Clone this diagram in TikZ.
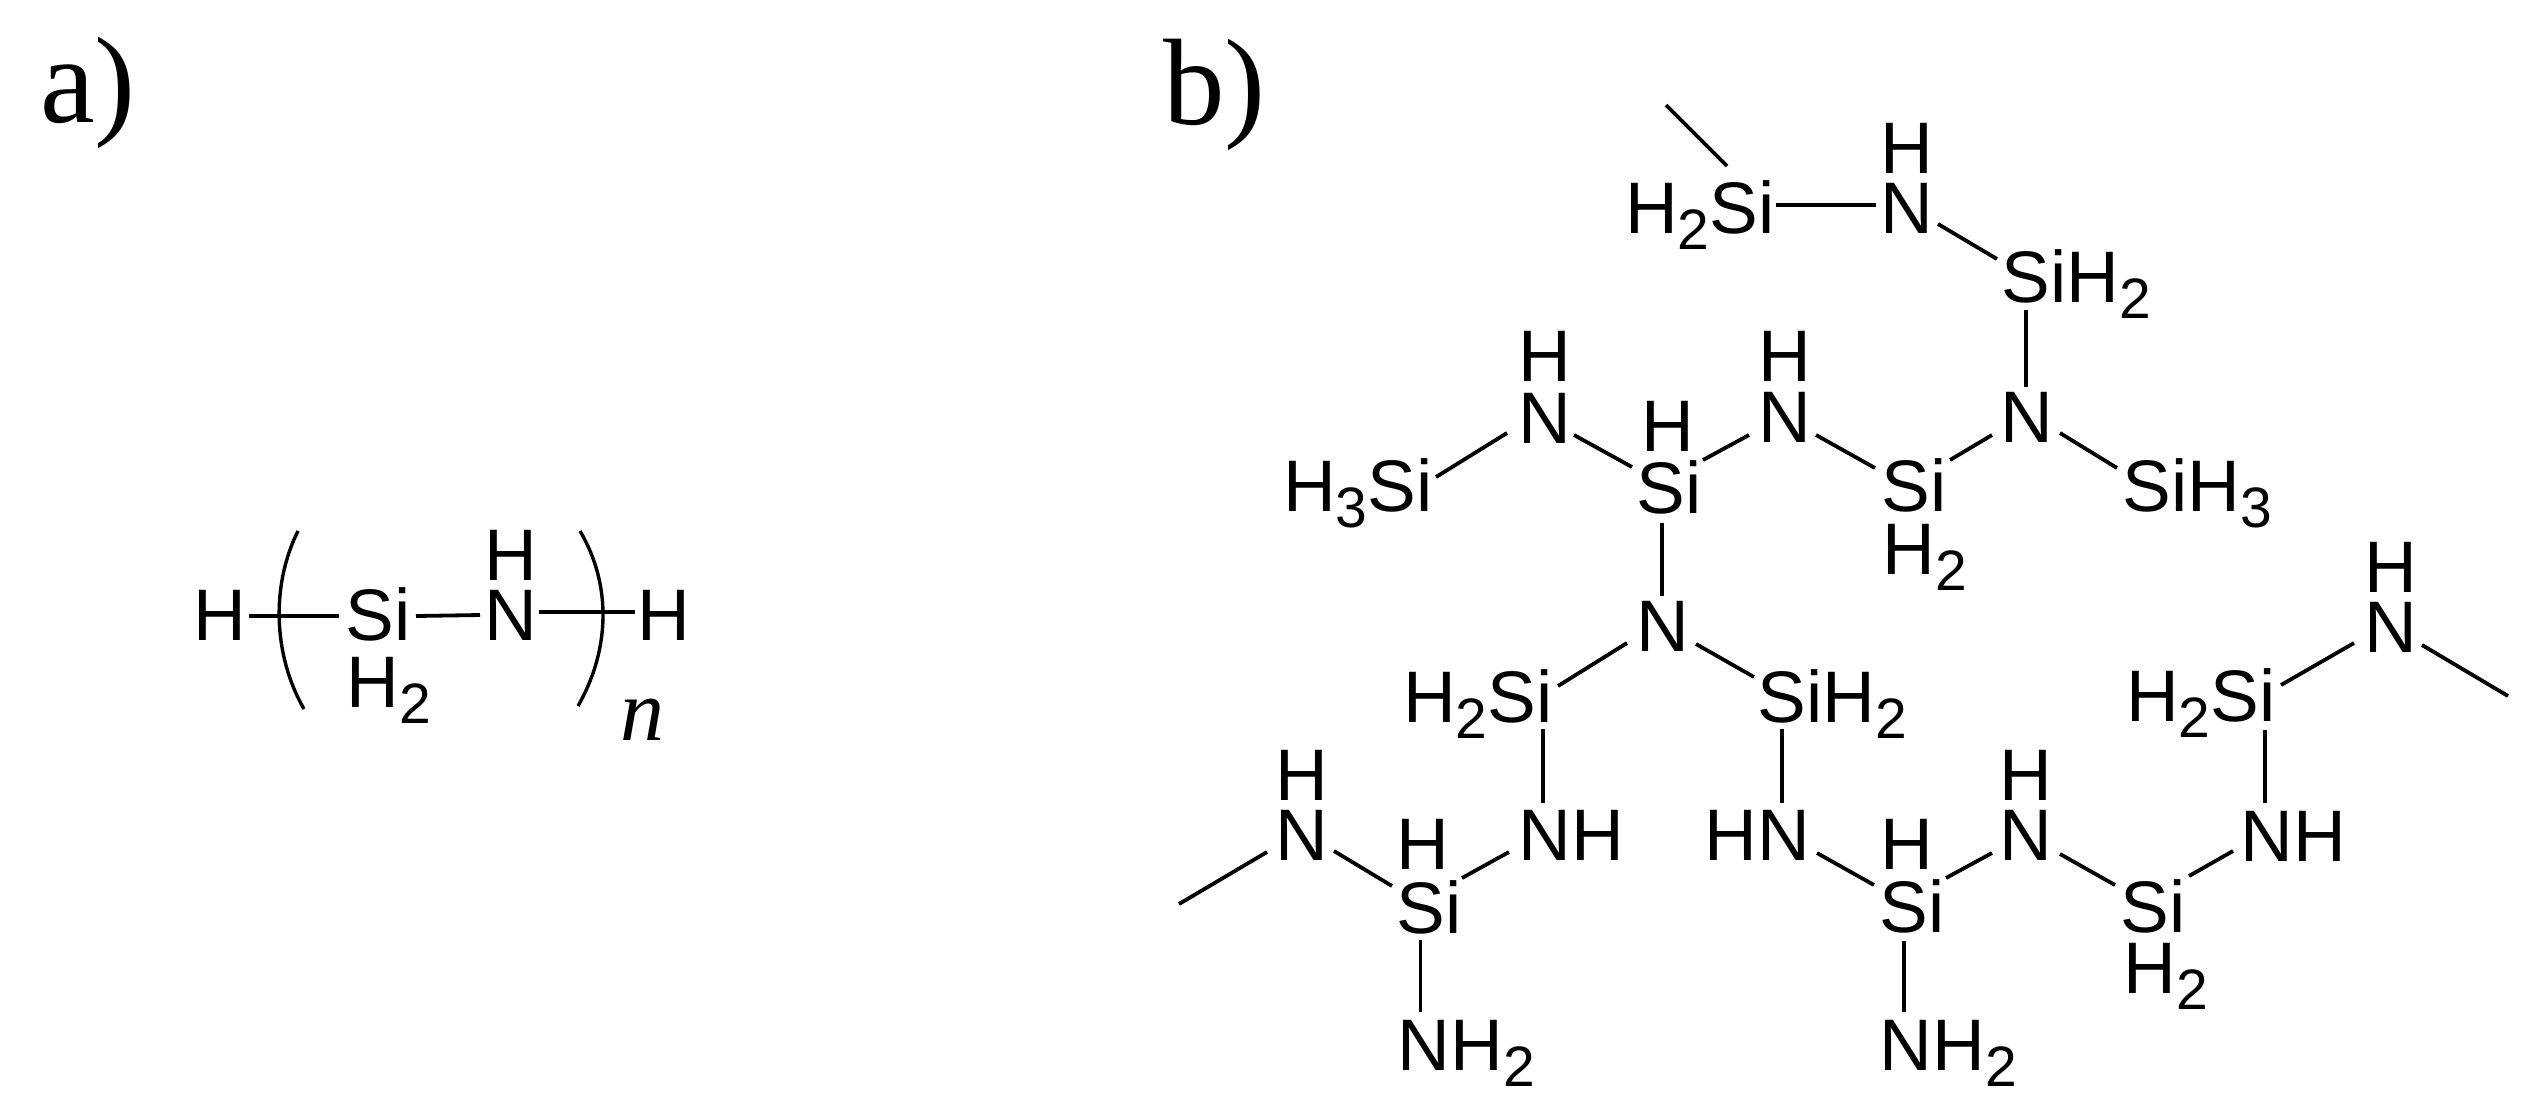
\documentclass[tikz,border=0pt]{standalone}
\usepackage{fontspec}
\setmainfont{Liberation Sans}
\newfontfamily\timesf{Liberation Serif}
\newcommand{\subs}[1]{\raisebox{-.22em}{\fontsize{28.5}{28.5}\selectfont #1}}
\newcommand{\HH}[1]{H\subs{#1}}
\newcommand{\bond}[6]{\draw[bondline] ([shift={(#2,#3)}]#1.center) -- ([shift={(#5,#6)}]#4.center);}
\tikzset{
  x=0.5pt,y=-0.5pt,
  atom/.style={inner sep=0pt,outer sep=0pt,text height=23.1pt,text depth=0pt,font=\fontsize{36.5}{37}\selectfont},
  panel/.style={inner sep=0pt,outer sep=0pt,anchor=base west,font=\fontsize{61.5}{62}\timesf},
  bondline/.style={line width=1.9pt,line cap=butt},
  paren/.style={line width=1.7pt}
}
\begin{document}
\begin{tikzpicture}
\useasboundingbox (0,0) rectangle (2528,1116);
% panel labels
\node[panel] (pa) at (40,122) {a)};
\node[panel] (pb) at (1163,124) {b)};
% part a
\node[atom] (aH1) at (220,617) {H};
\node[atom] (aSi) at (378,617) {Si};
\node[atom] (aN) at (511,617) {N};
\node[atom] (aNH) at (511,557) {H};
\node[atom] (aH2) at (373,684) {H\smash{\rlap{\subs{2}}}};
\node[atom] (aH3) at (664,617) {H};
\node[inner sep=0pt,font=\fontsize{44}{44}\timesf\itshape] (an) at (642,720) {n};
\bond{aH1}{29}{-1}{aSi}{-39}{-1}
\bond{aSi}{38}{-1}{aN}{-31}{-2}
\bond{aN}{28}{-5}{aH3}{-29}{-5}
\coordinate (lpT) at (298,531); \coordinate (lpB) at (304,709);
\coordinate (rpT) at (580,531); \coordinate (rpB) at (578,706);
\draw[paren] (lpT) .. controls (271,585) and (273,655) .. (lpB);
\draw[paren] (rpT) .. controls (612,585) and (610,650) .. (rpB);
% part b: atoms
\coordinate (fTop) at (1666,105);
\node[atom] (s1) at (1742,210) {\smash{\llap{\HH{2}}}Si};
\node[atom] (n1a) at (1907,210) {N};
\node[atom] (n1aH) at (1907,150) {H};
\node[atom] (s1b) at (2034,279) {Si\smash{\rlap{\HH{2}}}};
\node[atom] (n5) at (2027,419) {N};
\node[atom] (n1) at (1545,420) {N};
\node[atom] (n1H) at (1545,358) {H};
\node[atom] (n2) at (1785,419) {N};
\node[atom] (n2H) at (1785,358) {H};
\node[atom] (s0) at (1400,488) {\smash{\llap{\HH{3}}}Si};
\node[atom] (s2c) at (1669,490) {Si};
\node[atom] (s2cH) at (1668,428) {H};
\node[atom] (s3) at (1914,488) {Si};
\node[atom] (s3H) at (1909,551) {H\smash{\rlap{\subs{2}}}};
\node[atom] (s4) at (2155,488) {Si\smash{\rlap{\HH{3}}}};
\node[atom] (n3) at (1663,628) {N};
\node[atom] (s5) at (1520,699) {\smash{\llap{\HH{2}}}Si};
\node[atom] (s6) at (1790,699) {Si\smash{\rlap{\HH{2}}}};
\node[atom] (n6) at (1545,837) {N\smash{\rlap{H}}};
\node[atom] (n7) at (1784,837) {\smash{\llap{H}}N};
\node[atom] (n8) at (1302,837) {N};
\node[atom] (n8H) at (1302,777) {H};
\coordinate (fL) at (1179,904);
\node[atom] (s7) at (1429,910) {Si};
\node[atom] (s7H) at (1423,846) {H};
\node[atom] (n9) at (1424,1047) {N\smash{\rlap{\HH{2}}}};
\node[atom] (s8) at (1912,909) {Si};
\node[atom] (s8H) at (1907,846) {H};
\node[atom] (n10) at (1906,1047) {N\smash{\rlap{\HH{2}}}};
\node[atom] (n11) at (2026,837) {N};
\node[atom] (n11H) at (2026,777) {H};
\node[atom] (s9) at (2153,909) {Si};
\node[atom] (s9H) at (2150,970) {H\smash{\rlap{\subs{2}}}};
\node[atom] (n12) at (2267,838) {N\smash{\rlap{H}}};
\node[atom] (s10) at (2243,698) {\smash{\llap{\HH{2}}}Si};
\node[atom] (n13) at (2391,629) {N};
\node[atom] (n13H) at (2391,569) {H};
\coordinate (fR) at (2508,696);
% part b: bonds
\draw[bondline] (fTop) -- ([shift={(-15,-44)}]s1.center);
\bond{s1}{34}{-5}{n1a}{-31}{-5}
\bond{n1a}{31}{14}{s1b}{-37}{-20}
\bond{s1b}{-8}{31}{n5}{-1}{-32}
\bond{n2}{31}{16}{s3}{-39}{-20}
\bond{s3}{36}{-28}{n5}{-35}{16}
\bond{n5}{33}{14}{s4}{-38}{-20}
\bond{s0}{36}{-11}{n1}{-38}{13}
\bond{n1}{29}{15}{s2c}{-37}{-23}
\bond{s2c}{34}{-30}{n2}{-36}{16}
\bond{s2c}{-7}{33}{n3}{-1}{-32}
\bond{s5}{38}{-13}{n3}{-36}{15}
\bond{n3}{33}{16}{s6}{-36}{-22}
\bond{s5}{23}{30}{n6}{-2}{-34}
\bond{s6}{-8}{30}{n7}{-2}{-34}
\draw[bondline] (fL) -- ([shift={(-35,15)}]n8.center);
\bond{n8}{32}{14}{s7}{-37}{-24}
\bond{s7}{33}{-32}{n6}{-36}{15}
\bond{s7}{-8.5}{30}{n9}{-3.5}{-35}
\bond{n7}{33}{16}{s8}{-38}{-24}
\bond{s8}{34}{-31}{n11}{-34}{16}
\bond{n11}{34}{17}{s9}{-38}{-24}
\bond{s9}{36}{-33}{n12}{-34}{13}
\bond{s8}{-8}{32}{n10}{-2}{-35}
\bond{s10}{22}{32}{n12}{-2}{-35}
\bond{s10}{38}{-13}{n13}{-37}{14}
\draw[bondline] ([shift={(31,16)}]n13.center) -- (fR);
\end{tikzpicture}
\end{document}
